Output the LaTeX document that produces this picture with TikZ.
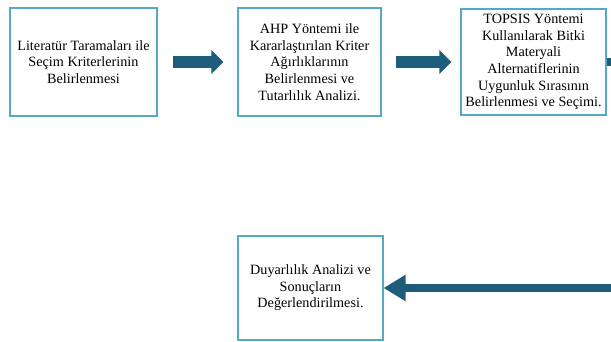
\documentclass[tikz,border=0pt]{standalone}
\usepackage{fontspec}
\setmainfont{Liberation Serif}
\usetikzlibrary{arrows.meta}

\definecolor{boxLine}{RGB}{84,170,196}
\definecolor{arrowColor}{RGB}{30,92,124}

\begin{document}
\begin{tikzpicture}[x=1pt,y=1pt,
  stage/.style={draw=boxLine,line width=1.2pt,align=center,inner sep=0pt,
    font=\fontsize{14.2}{16.6}\selectfont},
  blockarrow/.style={draw=arrowColor,line width=12pt,
    -{Triangle[length=12pt,width=23pt]}},
  backarrow/.style={draw=arrowColor,line width=8pt,
    -{Triangle[length=22pt,width=25pt]}}]
  \useasboundingbox (0,0) rectangle (611,342);
  \clip (0,0) rectangle (611,342);
  % Boxes
  \node[stage,minimum width=147pt,minimum height=108pt] (lit) at (83.5,280)
    {Literatür Taramaları ile\\Seçim Kriterlerinin\\Belirlenmesi};
  \node[stage,minimum width=143pt,minimum height=108pt] (ahp) at (309.5,280)
    {AHP Yöntemi ile\\Kararlaştırılan Kriter\\Ağırlıklarının\\Belirlenmesi ve\\Tutarlılık Analizi.};
  \node[stage,minimum width=145pt,minimum height=106pt] (topsis) at (533.5,280)
    {TOPSIS Yöntemi\\Kullanılarak Bitki\\Materyali\\Alternatiflerinin\\Uygunluk Sırasının\\Belirlenmesi ve Seçimi.};
  \node[stage,minimum width=145pt,minimum height=104pt] (duyar) at (310.5,54)
    {Duyarlılık Analizi ve\\Sonuçların\\Değerlendirilmesi.};
  % Arrows
  \draw[blockarrow] ([xshift=15pt]lit.east) -- ([xshift=-14pt]ahp.west);
  \draw[blockarrow] ([xshift=14pt]ahp.east) -- ([xshift=-9pt]topsis.west);
  \coordinate (turn) at (624,280);
  \draw[backarrow] (topsis.east) -- (turn) |- (duyar.east);
\end{tikzpicture}
\end{document}
